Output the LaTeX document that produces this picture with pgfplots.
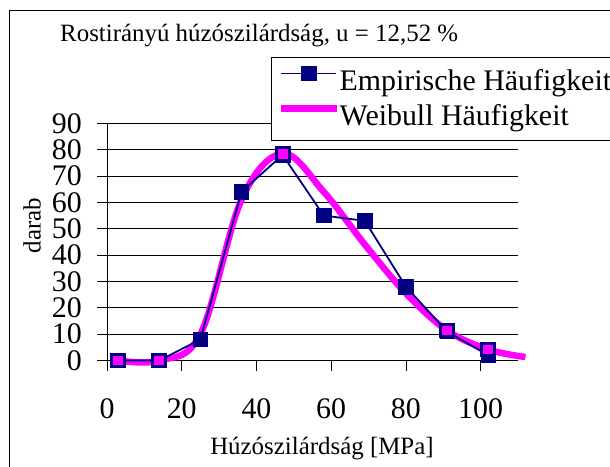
\documentclass[border=0pt]{standalone}
\usepackage{fontspec}
\setmainfont{Liberation Serif}
\usepackage{pgfplots}
\pgfplotsset{compat=1.18}
\definecolor{navy}{HTML}{000080}
\definecolor{pinkw}{HTML}{FF00FF}
\begin{document}
\begin{tikzpicture}
\useasboundingbox (0,0) rectangle (610bp,-467bp);
\draw[line width=1bp] (9.5bp,-10.5bp) rectangle (640bp,-500bp);
\node[anchor=base west, inner sep=0pt, font=\fontsize{25}{30}\selectfont] at (60bp,-41bp) {Rostirányú húzószilárdság, u = 12,52 \%};
\begin{axis}[
 at={(107bp,-360.5bp)}, anchor=south west,
 scale only axis, width=411bp, height=237.2bp,
 xmin=0, xmax=110, ymin=0, ymax=90,
 axis x line*=bottom, axis y line*=left,
 axis line style={-, line width=0.8bp, black},
 xtick={0,20,...,100}, ytick={0,10,...,90},
 tick align=outside, major tick length=10bp,
 every tick/.style={black, line width=0.8bp},
 ymajorgrids, grid style={black, line width=0.8bp},
 /pgf/number format/assume math mode=true,
 ticklabel style={font=\fontsize{30}{30}\selectfont},
 yticklabel style={anchor=east, inner sep=0pt, xshift=-15bp},
 xticklabel style={anchor=north, inner sep=0pt, yshift=-27.5bp},
 xlabel={Húzószilárdság [MPa]}, ylabel={darab},
 label style={font=\fontsize{25}{30}\selectfont},
 xlabel style={at={(axis description cs:0.523,-0.398)}, anchor=base, inner sep=0pt},
 ylabel style={at={(axis description cs:-0.1825,0.569)}, anchor=center, inner sep=0pt},
 clip=false,
 reverse legend,
 legend cell align=left,
 legend style={at={(axis description cs:0.399,1.2795)}, anchor=north west,
   draw=black, fill=white, font=\fontsize{30}{30}\selectfont,
   inner xsep=7bp, inner ysep=9bp, row sep=7bp,
   nodes={inner sep=0pt, text height=22bp, text depth=6bp},
   /tikz/every odd column/.append style={column sep=0bp}},
 legend image code/.code={\draw[mark repeat=2, mark phase=2, #1] plot coordinates {(0bp,9bp) (27.5bp,9bp) (55bp,9bp)};},
]
\addplot[pinkw, line width=6.5bp, smooth, tension=0.6] coordinates {
 (3,0) (14,0) (25,10) (36,61) (47,78.5) (58,64) (69,44) (80,25.5) (91,11.4) (102,4.2) (112,1.3)};
\addlegendentry{Weibull Häufigkeit}
\addplot[navy, line width=1.8bp, mark=square*, mark size=7.2bp, mark options={fill=navy, draw=navy, line width=0.6bp}] coordinates {
 (3,0) (14,0) (25,8) (36,64) (47,78) (58,55) (69,53) (80,28) (91,11) (102,2)};
\addlegendentry{Empirische Häufigkeit}
\addplot[forget plot, only marks, mark=square*, mark size=6.4bp, mark options={draw=navy, fill=pinkw, line width=3bp}] coordinates {
 (3,0) (14,0) (47,78.5) (91,11.4) (102,4.2)};
\end{axis}
\end{tikzpicture}
\end{document}
